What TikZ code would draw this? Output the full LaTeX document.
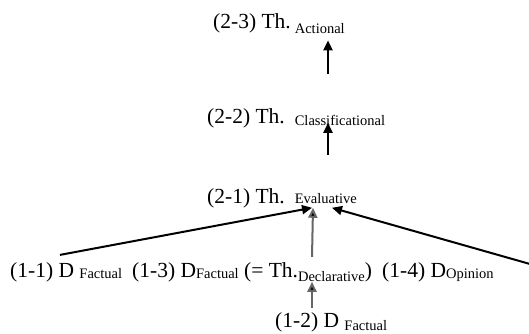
\documentclass[tikz,border=0pt]{standalone}
\usepackage{fontspec}
\setmainfont{Liberation Serif}
\usetikzlibrary{arrows.meta}
\newcommand\sbs[2]{\raisebox{-#1pt}{\fontsize{14.5}{16}\selectfont #2}}
\tikzset{
  lab/.style={anchor=base west, inner sep=0pt, text=black, font=\fontsize{21.5}{24}\selectfont},
  arr/.style={-{Triangle[length=10pt,width=9pt]}, line width=2pt, black},
  garr/.style={arr, draw=black!60, -{Triangle[length=10pt,width=9pt,fill=black]}}
}
\begin{document}
\begin{tikzpicture}[x=1pt,y=1pt]
\useasboundingbox (0,0) rectangle (529,333);
\node[lab] (n23) at (213,305) {(2-3) Th.\hspace{4pt}\sbs{5}{Actional}};
\node[lab] (n22) at (207,210) {(2-2) Th.\hspace{10pt}\sbs{2}{Classificational}};
\node[lab] (n21) at (207,130) {(2-1) Th.\hspace{10pt}\sbs{0}{Evaluative}};
\node[lab] (n11) at (10,56) {(1-1) D \sbs{1}{Factual}};
\node[lab] (n13) at (132,56) {(1-3) D\sbs{1}{Factual} (= Th.\sbs{4}{Declarative})};
\node[lab] (n14) at (382,56) {(1-4) D\sbs{1}{Opinion}};
\node[lab] (n12) at (275,6) {(1-2) D \sbs{3}{Factual}};
\coordinate (redge) at (530,69);
\draw[arr] ([xshift=121pt,yshift=34pt]n22.north west) -- ([xshift=115pt,yshift=-7pt]n23.south west);
\draw[arr] ([xshift=121pt,yshift=33pt]n21.north west) -- ([xshift=121pt,yshift=5pt]n22.south west);
\draw[arr] ([xshift=50pt,yshift=7pt]n11.north west) -- ([xshift=105pt]n21.south west);
\draw[arr] (redge) -- ([xshift=125pt]n21.south west);
\draw[garr] ([xshift=180pt,yshift=5pt]n13.north west) -- ([xshift=106pt]n21.south west);
\draw[garr] ([xshift=37pt,yshift=4pt]n12.north west) -- ([xshift=180pt]n13.south west);
\end{tikzpicture}
\end{document}
